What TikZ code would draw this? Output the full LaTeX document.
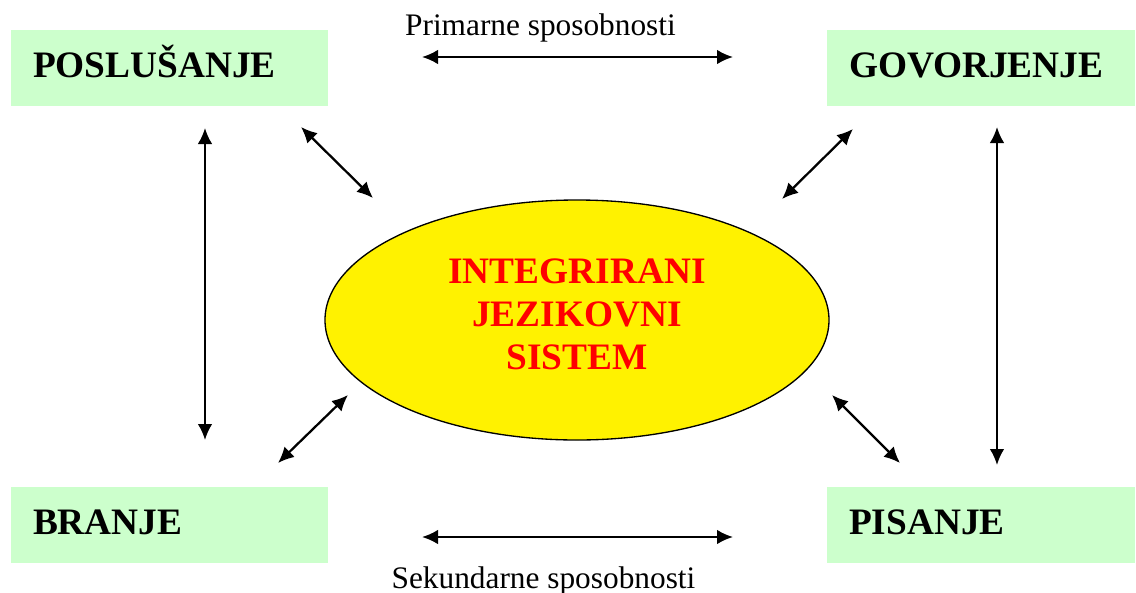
\documentclass[tikz,border=0pt]{standalone}
\usepackage{fontspec}
\setmainfont{Liberation Serif}
\usetikzlibrary{shapes, arrows.meta, positioning}
\definecolor{skillgreen}{HTML}{CCFFCC}
\tikzstyle{skill} = [fill=skillgreen, rectangle, minimum height=57pt,
inner xsep=16.5pt, text height=18pt, text depth=4.5pt, align=left,
font=\fontsize{28}{30}\selectfont\bfseries]
\tikzstyle{core} = [draw, line width=1pt, fill=yellow, ellipse, inner sep=0,
minimum width=378pt, minimum height=180pt, align=center, text=red,
text depth=9pt, font=\fontsize{28}{32.25}\selectfont\bfseries]
\tikzstyle{caption} = [font=\fontsize{23.5}{26}\selectfont, anchor=base]
\tikzstyle{link} = [{Latex[length=12pt,width=11pt]}-{Latex[length=12pt,width=11pt]}, line width=1.7pt]

\begin{document}
\begin{tikzpicture}[x=0.75pt, y=-0.75pt]
    \useasboundingbox (0,0) rectangle (1136,593);
    % We start by placing the blocks
    \node [skill, text width=204.75pt] (listen) at (169.5,68) {POSLUŠANJE};
    \node [skill, text width=198pt] (speak) at (981,68) {GOVORJENJE};
    \node [skill, text width=204.75pt] (read) at (169.5,525) {BRANJE};
    \node [skill, text width=198pt] (write) at (981,525) {PISANJE};
    \node [core] (system) at (577,320) {INTEGRIRANI\\JEZIKOVNI\\SISTEM};
    \node [caption] (primary) at (540.5,35) {Primarne sposobnosti};
    \node [caption] (secondary) at (543.5,588) {Sekundarne sposobnosti};

    % free ends of the arrows
    \coordinate (pA) at (422,57);   \coordinate (pB) at (733,57);
    \coordinate (sA) at (422,537);  \coordinate (sB) at (733,537);
    \coordinate (lA) at (205,128);  \coordinate (lB) at (205,440);
    \coordinate (rA) at (997,127);  \coordinate (rB) at (997,465);
    \coordinate (ulA) at (301,127); \coordinate (ulB) at (373,198);
    \coordinate (urA) at (853,129); \coordinate (urB) at (782,199);
    \coordinate (llA) at (348,395); \coordinate (llB) at (278,463);
    \coordinate (lrA) at (832,395); \coordinate (lrB) at (900,463);

    % Once the nodes are placed, connecting them is easy.
    \draw [link] (pA) -- (pB);
    \draw [link] (sA) -- (sB);
    \draw [link] (lA) -- (lB);
    \draw [link] (rA) -- (rB);
    \draw [link] (ulA) -- (ulB);
    \draw [link] (urA) -- (urB);
    \draw [link] (llA) -- (llB);
    \draw [link] (lrA) -- (lrB);
\end{tikzpicture}
\end{document}
